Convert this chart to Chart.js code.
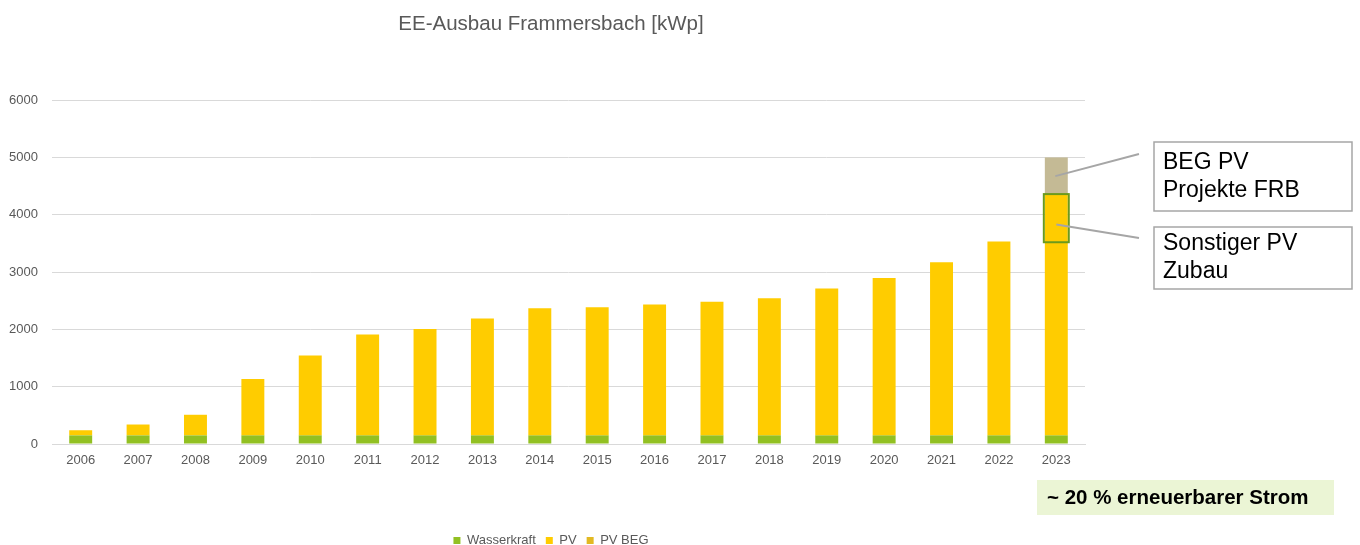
<!DOCTYPE html>
<html>
<head>
<meta charset="utf-8">
<script src="https://cdn.jsdelivr.net/npm/chart.js@4.4.1/dist/chart.umd.min.js"></script>
<style>
  html, body { margin: 0; padding: 0; background: #ffffff; }
  #wrap { position: relative; width: 1360px; height: 545px; }
</style>
</head>
<body>
<div id="wrap"><canvas id="c" width="1360" height="545"></canvas></div>
<script>
// ---- Data ----
const years = ['2006','2007','2008','2009','2010','2011','2012','2013','2014','2015','2016','2017','2018','2019','2020','2021','2022','2023'];
const wasserkraft = [150,150,150,150,150,150,150,150,150,150,150,150,150,150,150,150,150,150];
const pv = [90,190,360,985,1395,1760,1855,2040,2220,2235,2285,2330,2395,2565,2745,3020,3385,4210];
const pvBeg = [0,0,0,0,0,0,0,0,0,0,0,0,0,0,0,0,0,640];
const yTicks = [0,1000,2000,3000,4000,5000,6000];
const titleText = 'EE-Ausbau Frammersbach [kWp]';
const highlightRange = [3520, 4360];   // "Sonstiger PV Zubau" segment in 2023
const begLabel = ['BEG PV', 'Projekte FRB'];
const zubauLabel = ['Sonstiger PV', 'Zubau'];
const shareText = '~ 20 % erneuerbarer Strom';

const FONT = "'Liberation Sans', Arial, sans-serif";
const legendColors = ['#92C022', '#FFCC00', '#E2B922'];

const annotations = {
  id: 'annotations',
  afterDatasetsDraw(chart) {
    const ctx = chart.ctx;
    const y = chart.scales.y;
    const meta = chart.getDatasetMeta(1);
    const last = meta.data[meta.data.length - 1];
    const bx = last.x, bw = last.width;
    ctx.save();
    // outlined segment
    const yTop = y.getPixelForValue(highlightRange[1]);
    const yBot = y.getPixelForValue(highlightRange[0]);
    ctx.strokeStyle = '#6B9A1C';
    ctx.lineWidth = 2;
    ctx.strokeRect(bx - bw / 2 - 1, yTop, bw + 2, yBot - yTop);
    // leader lines
    const begTotal = wasserkraft[17] + pv[17] + pvBeg[17];
    ctx.strokeStyle = '#A6A6A6';
    ctx.lineWidth = 2;
    ctx.beginPath();
    ctx.moveTo(bx - 1, y.getPixelForValue(highlightRange[1] + (begTotal - highlightRange[1]) * 0.49));
    ctx.lineTo(1139, 154);
    ctx.moveTo(bx, y.getPixelForValue(highlightRange[0] + (highlightRange[1] - highlightRange[0]) * 0.37));
    ctx.lineTo(1139, 238);
    ctx.stroke();
    // callout boxes
    ctx.lineWidth = 1.5;
    ctx.strokeStyle = '#A6A6A6';
    ctx.fillStyle = '#ffffff';
    ctx.fillRect(1154, 142, 198, 69);
    ctx.strokeRect(1154, 142, 198, 69);
    ctx.fillRect(1154, 227, 198, 62);
    ctx.strokeRect(1154, 227, 198, 62);
    ctx.fillStyle = '#000000';
    ctx.font = '23px ' + FONT;
    ctx.textBaseline = 'middle';
    ctx.textAlign = 'left';
    ctx.fillText(begLabel[0], 1163, 163);
    ctx.fillText(begLabel[1], 1163, 191);
    ctx.fillText(zubauLabel[0], 1163, 244);
    ctx.fillText(zubauLabel[1], 1163, 272);
    // share box
    ctx.fillStyle = '#EBF5D5';
    ctx.fillRect(1037, 480, 297, 35);
    ctx.fillStyle = '#000000';
    ctx.font = 'bold 20.5px ' + FONT;
    ctx.fillText(shareText, 1047, 498);
    ctx.restore();
  }
};

new Chart(document.getElementById('c'), {
  type: 'bar',
  data: {
    labels: years,
    datasets: [
      { label: 'Wasserkraft', data: wasserkraft, backgroundColor: '#92C022', stack: 's' },
      { label: 'PV', data: pv, backgroundColor: '#FFCC00', stack: 's' },
      { label: 'PV BEG', data: pvBeg, backgroundColor: '#C4BA95', stack: 's' }
    ]
  },
  options: {
    responsive: false,
    animation: false,
    events: [],
    layout: { padding: { left: 3, right: 261, top: 9, bottom: -12 } },
    datasets: { bar: { categoryPercentage: 1.0, barPercentage: 0.4 } },
    plugins: {
      title: {
        display: true, text: titleText, color: '#595959',
        font: { family: FONT, size: 20.5, weight: 'normal' },
        padding: { top: 3, bottom: 63.5 }
      },
      legend: {
        position: 'bottom',
        labels: {
          color: '#595959', boxWidth: 7, boxHeight: 7, padding: 10,
          font: { family: FONT, size: 13 },
          generateLabels(chart) {
            return chart.data.datasets.map((ds, i) => ({
              text: ds.label, fillStyle: legendColors[i], strokeStyle: legendColors[i],
              lineWidth: 0, hidden: false, datasetIndex: i, fontColor: '#595959'
            }));
          }
        }
      },
      tooltip: { enabled: false }
    },
    scales: {
      x: {
        stacked: true,
        grid: { display: false, drawTicks: false },
        border: { display: true, color: '#D9D9D9', width: 1 },
        ticks: { color: '#595959', font: { family: FONT, size: 13 }, padding: 9, maxRotation: 0 },
        afterFit(s) { s.height = 80; }
      },
      y: {
        stacked: true, min: 0, max: 6000,
        afterBuildTicks(s) { s.ticks = yTicks.map(v => ({ value: v })); },
        grid: { color: '#D9D9D9', lineWidth: 1, drawTicks: false },
        border: { display: false },
        ticks: { color: '#595959', font: { family: FONT, size: 13 }, padding: 14, callback: v => String(v) },
        afterFit(s) { s.width = 49; }
      },
      yRight: {
        type: 'linear', position: 'right', display: true, min: 0, max: 6000,
        grid: { display: false, drawTicks: false },
        border: { display: false },
        ticks: { display: false },
        afterFit(s) { s.width = 14; }
      }
    }
  },
  plugins: [annotations]
});
</script>
</body>
</html>
